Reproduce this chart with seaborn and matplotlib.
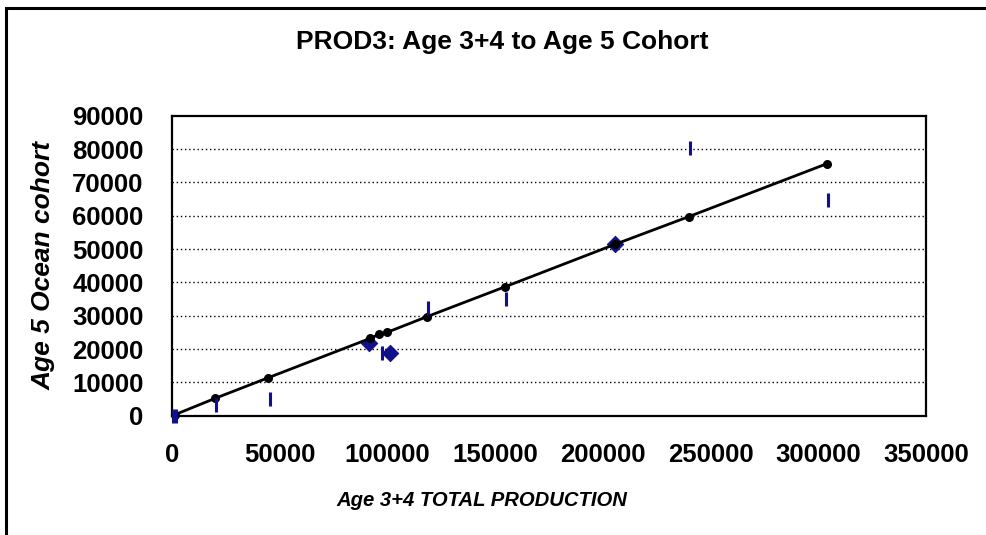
import matplotlib
matplotlib.use("Agg")
import matplotlib.pyplot as plt
import matplotlib.patches as patches
import seaborn as sns
import pandas as pd

# predicted line (black dots on the fit)
pred_x = [1500, 20000, 44700, 92000, 96100, 99800, 118300, 154700, 205600, 239800, 304000]
pred_y = [350, 5200, 11400, 23200, 24400, 25000, 29700, 38700, 51400, 59700, 75600]

# observed values (blue bars)
obs_x = [400, 1800, 20300, 45500, 97300, 119000, 155000, 240500, 304700]
obs_y = [0, 0, 3200, 4900, 18700, 32200, 34900, 80400, 64700]

# second observed series (blue diamonds)
dia_x = [91500, 101200, 205600]
dia_y = [21700, 18700, 51500]

x_ticks = [0, 50000, 100000, 150000, 200000, 250000, 300000, 350000]
y_ticks = [0, 10000, 20000, 30000, 40000, 50000, 60000, 70000, 80000, 90000]

sns.set_style("white")
plt.rcParams['font.family'] = ['Liberation Sans', 'DejaVu Sans']
plt.rcParams['text.color'] = 'black'
plt.rcParams['axes.labelcolor'] = 'black'
plt.rcParams['xtick.color'] = 'black'
plt.rcParams['ytick.color'] = 'black'

fig = plt.figure(figsize=(9.87, 5.35), dpi=100)
ax = fig.add_axes([172 / 987, 1 - 415.7 / 535, 754 / 987, 300 / 535])

pred = pd.DataFrame({'x': pred_x, 'y': pred_y})
obs = pd.DataFrame({'x': obs_x, 'y': obs_y})
dia = pd.DataFrame({'x': dia_x, 'y': dia_y})

# grid
for yv in y_ticks[1:-1]:
    ax.axhline(yv, color='black', lw=1.0, ls=(0, (1, 2)), zorder=0)

sns.lineplot(data=pred, x='x', y='y', ax=ax, color='black', lw=2.0, sort=False,
             marker='o', markersize=6.5, markeredgewidth=0, zorder=3, clip_on=False)
sns.scatterplot(data=dia, x='x', y='y', ax=ax, marker='D', s=70, color='#10108a',
                edgecolor='#10108a', zorder=2, clip_on=False)
sns.scatterplot(data=obs, x='x', y='y', ax=ax, marker='|', s=110, color='#10108a',
                linewidth=2.2, zorder=4, clip_on=False)

ax.set_xlim(0, 350000)
ax.set_ylim(0, 90000)
ax.set_xticks(x_ticks)
ax.set_yticks(y_ticks)
ax.set_xticklabels([str(v) for v in x_ticks], fontsize=18.5, fontweight='bold')
ax.set_yticklabels([str(v) for v in y_ticks], fontsize=18.5, fontweight='bold')
ax.tick_params(axis='both', direction='out', length=6, width=1.3, color='black',
               labelcolor='black')
ax.tick_params(axis='x', pad=14)
ax.tick_params(axis='y', pad=14.5)

for s in ax.spines.values():
    s.set_visible(True)
    s.set_color('black')
    s.set_linewidth(1.6)

ax.set_xlabel('Age 3+4 TOTAL PRODUCTION', fontsize=14.6, fontweight='bold',
              fontstyle='italic', va='center', color='black')
ax.xaxis.set_label_coords(0.411, -0.281)
ax.set_ylabel('Age 5 Ocean cohort', fontsize=19, fontweight='bold',
              fontstyle='italic', va='center', color='black')
ax.yaxis.set_label_coords(-0.170, 0.502)

fig.text(502 / 987, 1 - 42 / 535, 'PROD3: Age 3+4 to Age 5 Cohort', fontsize=19,
         fontweight='bold', ha='center', va='center', color='black')

# outer chart border (cut off at right and bottom)
fig.patches.append(patches.Rectangle((6 / 987, -0.2), 1.2, 1.2 - 8 / 535,
                                     transform=fig.transFigure, fill=False,
                                     edgecolor='black', lw=2.2))

fig.savefig('out.png', dpi=100)
